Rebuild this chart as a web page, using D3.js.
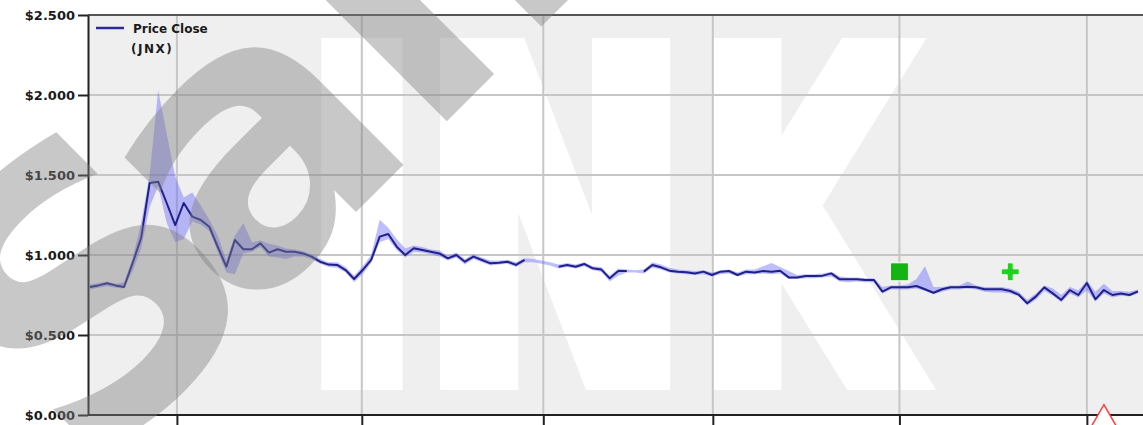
<!DOCTYPE html>
<html>
<head>
<meta charset="utf-8">
<script src="https://cdn.jsdelivr.net/npm/d3@7"></script>
<style>
  html, body { margin: 0; padding: 0; background: #ffffff; }
  svg { display: block; }
  text { font-family: "DejaVu Sans", sans-serif; }
</style>
</head>
<body>
<svg id="chart" width="1143" height="425"></svg>
<script>
// ---------------- data ----------------
const seriesName = "Price Close";
const seriesTicker = "(JNX)";

// weekly-ish observations, indexed 0..123
const closeValues = [
  0.80, 0.81, 0.823, 0.81, 0.80, 0.95, 1.106, 1.45, 1.458, 1.325,
  1.187, 1.325, 1.24, 1.219, 1.177, 1.05, 0.927, 1.094, 1.036, 1.036,
  1.073, 1.015, 1.036, 1.02, 1.02, 1.01, 0.99, 0.958, 0.94, 0.938,
  0.906, 0.85, 0.906, 0.969, 1.115, 1.131, 1.052, 1.0, 1.042, 1.031,
  1.02, 1.01, 0.979, 1.0, 0.958, 0.99, 0.969, 0.948, 0.952, 0.958,
  0.938, 0.969, null, null, null, 0.927, 0.9375, 0.927, 0.944, 0.917,
  0.91, 0.854, 0.90, 0.90, null, 0.896, 0.9375, 0.923, 0.902, 0.896,
  0.892, 0.885, 0.896, 0.875, 0.896, 0.90, 0.875, 0.896, 0.89, 0.90,
  0.896, 0.902, 0.86, 0.86, 0.869, 0.869, 0.871, 0.885, 0.848, 0.848,
  0.848, 0.844, 0.844, 0.771, 0.798, 0.798, 0.798, 0.806, 0.786, 0.764,
  0.786, 0.798, 0.798, 0.802, 0.798, 0.786, 0.786, 0.786, 0.775, 0.752,
  0.698, 0.74, 0.798, 0.76, 0.719, 0.781, 0.75, 0.825, 0.723, 0.781,
  0.75, 0.76, 0.75, 0.773
];
const lowValues = [
  0.785, 0.795, 0.805, 0.795, 0.79, 0.90, 1.04, 1.30, 1.43, 1.20,
  1.08, 1.10, 1.21, 1.19, 1.15, 1.02, 0.89, 0.88, 1.01, 1.02,
  1.05, 0.99, 0.985, 0.975, 0.99, 0.99, 0.975, 0.945, 0.925, 0.92,
  0.89, 0.83, 0.88, 0.95, 1.08, 1.10, 1.03, 0.985, 1.02, 1.015,
  1.005, 0.99, 0.965, 0.985, 0.94, 0.975, 0.955, 0.935, 0.94, 0.945,
  0.925, 0.955, 0.955, 0.945, 0.935, 0.915, 0.925, 0.915, 0.93, 0.905,
  0.895, 0.835, 0.87, 0.89, 0.89, 0.885, 0.92, 0.91, 0.89, 0.885,
  0.88, 0.875, 0.88, 0.865, 0.88, 0.885, 0.865, 0.88, 0.88, 0.885,
  0.88, 0.885, 0.85, 0.85, 0.855, 0.855, 0.86, 0.865, 0.835, 0.83,
  0.835, 0.83, 0.83, 0.76, 0.785, 0.785, 0.785, 0.79, 0.775, 0.755,
  0.77, 0.785, 0.785, 0.79, 0.785, 0.77, 0.765, 0.765, 0.76, 0.74,
  0.685, 0.72, 0.775, 0.745, 0.705, 0.76, 0.735, 0.78, 0.71, 0.76,
  0.735, 0.745, 0.74, 0.76
];
const highValues = [
  0.815, 0.825, 0.835, 0.82, 0.83, 0.98, 1.20, 1.50, 2.03, 1.76,
  1.49, 1.36, 1.39, 1.31, 1.22, 1.12, 0.97, 1.12, 1.20, 1.08,
  1.09, 1.07, 1.06, 1.04, 1.035, 1.025, 1.005, 0.975, 0.955, 0.955,
  0.925, 0.87, 0.93, 1.00, 1.22, 1.17, 1.10, 1.04, 1.06, 1.05,
  1.035, 1.03, 0.995, 1.015, 0.975, 1.005, 0.985, 0.965, 0.965, 0.97,
  0.955, 0.98, 0.975, 0.965, 0.955, 0.94, 0.95, 0.94, 0.955, 0.93,
  0.925, 0.87, 0.915, 0.91, 0.905, 0.91, 0.955, 0.94, 0.92, 0.91,
  0.905, 0.90, 0.905, 0.89, 0.905, 0.91, 0.89, 0.91, 0.91, 0.93,
  0.95, 0.925, 0.90, 0.875, 0.88, 0.88, 0.885, 0.895, 0.865, 0.86,
  0.86, 0.855, 0.855, 0.80, 0.81, 0.81, 0.815, 0.85, 0.93, 0.80,
  0.80, 0.81, 0.81, 0.835, 0.81, 0.80, 0.80, 0.80, 0.79, 0.77,
  0.72, 0.76, 0.81, 0.79, 0.75, 0.80, 0.78, 0.84, 0.77, 0.82,
  0.775, 0.775, 0.77, 0.785
];

const yTicks = [0, 0.5, 1.0, 1.5, 2.0, 2.5];
const xTickPositions = [10.2, 31.9, 53.2, 73.1, 95, 117];

// event markers
const eventIndex = [95, 108, 119];
const eventValue = [0.895, 0.895, 0];
const eventSymbol = ["square", "cross", "triangle"];

const watermarkGrey = "Sample";
const watermarkWhiteA = "IN";
const watermarkWhiteB = "K";

// ---------------- layout ----------------
const plotLeft = 88, plotRight = 1143, plotTop = 15, plotBottom = 415;

const svg = d3.select("#chart");

const x = d3.scaleLinear().domain([0, closeValues.length - 1]).range([90, 1138]);
const y = d3.scaleLinear().domain([0, 2.5]).range([plotBottom, plotTop]);

const data = closeValues.map((c, i) => ({ i, c, lo: lowValues[i], hi: highValues[i] }));

svg.append("defs").append("clipPath").attr("id", "plotclip")
  .append("rect").attr("x", plotLeft).attr("y", plotTop)
  .attr("width", plotRight - plotLeft).attr("height", plotBottom - plotTop);

// plot background
svg.append("rect")
  .attr("x", plotLeft).attr("y", plotTop)
  .attr("width", plotRight - plotLeft).attr("height", plotBottom - plotTop)
  .attr("fill", "#efefef");

// white watermark letters
const fsW = 442.6, swW = 29.4;
const wm = svg.append("g").attr("clip-path", "url(#plotclip)");
function whiteText(str, tx, sx) {
  wm.append("text")
    .attr("transform", `translate(${tx},${390 - swW / 2}) scale(${sx},1)`)
    .attr("font-size", fsW)
    .attr("font-weight", "bold")
    .attr("fill", "#ffffff")
    .attr("stroke", "#ffffff")
    .attr("stroke-width", swW)
    .text(str);
}
whiteText(watermarkWhiteA, 302.5, 0.722);
whiteText(watermarkWhiteB, 697, 0.61);

// gridlines
const grid = svg.append("g");
grid.selectAll("line.h").data(yTicks.filter(v => v > 0 && v < 2.5)).join("line")
  .attr("x1", plotLeft).attr("x2", plotRight)
  .attr("y1", d => y(d)).attr("y2", d => y(d))
  .attr("stroke", "#c6c6c6").attr("stroke-width", 2);
grid.selectAll("line.v").data(xTickPositions).join("line")
  .attr("x1", d => x(d)).attr("x2", d => x(d))
  .attr("y1", plotTop).attr("y2", plotBottom)
  .attr("stroke", "#c6c6c6").attr("stroke-width", 2);

// band
const area = d3.area()
  .x(d => x(d.i))
  .y0(d => y(d.lo))
  .y1(d => y(d.hi));
svg.append("path").datum(data)
  .attr("d", area)
  .attr("fill", "rgba(100,100,255,0.42)");

// line
const line = d3.line()
  .defined(d => d.c != null)
  .x(d => x(d.i))
  .y(d => y(d.c));
svg.append("path").datum(data)
  .attr("d", line)
  .attr("fill", "none")
  .attr("stroke", "#20208a")
  .attr("stroke-width", 2)
  .attr("stroke-linejoin", "round");

// top border
svg.append("line")
  .attr("x1", plotLeft).attr("x2", plotRight)
  .attr("y1", plotTop).attr("y2", plotTop)
  .attr("stroke", "#555555").attr("stroke-width", 2);

// axes
const yAxis = d3.axisLeft(y)
  .tickValues(yTicks)
  .tickSize(10)
  .tickSizeOuter(0)
  .tickPadding(3)
  .tickFormat(d => "$" + d3.format(".3f")(d));
const gy = svg.append("g").attr("transform", `translate(${plotLeft},0)`).call(yAxis);
gy.select(".domain").attr("stroke", "#222").attr("stroke-width", 2);
gy.selectAll(".tick line").attr("stroke", "#222").attr("stroke-width", 2);
gy.selectAll(".tick text")
  .attr("font-family", "DejaVu Sans")
  .attr("font-weight", "bold")
  .attr("font-size", 13)
  .attr("fill", "#1a1a1a");

const xAxis = d3.axisBottom(x)
  .tickValues(xTickPositions)
  .tickSize(10)
  .tickSizeOuter(0)
  .tickFormat("");
const gx = svg.append("g").attr("transform", `translate(0,${plotBottom})`).call(xAxis);
gx.select(".domain").attr("d", `M${plotLeft},0H${plotRight}`).attr("stroke", "#222").attr("stroke-width", 2);
gx.selectAll(".tick line").attr("stroke", "#222").attr("stroke-width", 2);

// event markers
const markers = svg.append("g");
eventIndex.forEach((idx, k) => {
  const cx = x(idx), cy = y(eventValue[k]);
  const s = eventSymbol[k];
  if (s === "square") {
    markers.append("path")
      .attr("d", d3.symbol(d3.symbolSquare, 324)())
      .attr("transform", `translate(${cx},${cy})`)
      .attr("fill", "#14b414").attr("stroke", "#ffffff").attr("stroke-width", 1);
  } else if (s === "cross") {
    markers.append("path")
      .attr("d", d3.symbol(d3.symbolCross, 180)())
      .attr("transform", `translate(${cx},${cy})`)
      .attr("fill", "#1ed21e").attr("stroke", "#ffffff").attr("stroke-width", 1);
  } else {
    markers.append("path")
      .attr("d", d3.symbol(d3.symbolTriangle, 390)())
      .attr("transform", `translate(${cx},${cy + 7})`)
      .attr("fill", "#ffffff").attr("stroke", "#ff3b3b").attr("stroke-width", 1.5);
  }
});

// legend
const legend = svg.append("g");
legend.append("line")
  .attr("x1", 96).attr("x2", 124).attr("y1", 28).attr("y2", 28)
  .attr("stroke", "#2a2a9a").attr("stroke-width", 2.5);
legend.append("text")
  .attr("x", 133).attr("y", 33)
  .attr("font-size", 12).attr("font-weight", "bold").attr("fill", "#1a1a1a")
  .text(seriesName);
legend.append("text")
  .attr("x", 131).attr("y", 53)
  .attr("font-size", 12).attr("font-weight", "bold").attr("fill", "#1a1a1a")
  .attr("letter-spacing", 1.5)
  .text(seriesTicker);

// grey watermark on top
svg.append("text")
  .attr("transform", "translate(85,483) rotate(-45)")
  .attr("font-size", 380)
  .attr("font-weight", "bold")
  .attr("fill", "#808080")
  .attr("fill-opacity", 0.43)
  .attr("dx", "0 -50 0 0 0 0")
  .text(watermarkGrey);
</script>
</body>
</html>
